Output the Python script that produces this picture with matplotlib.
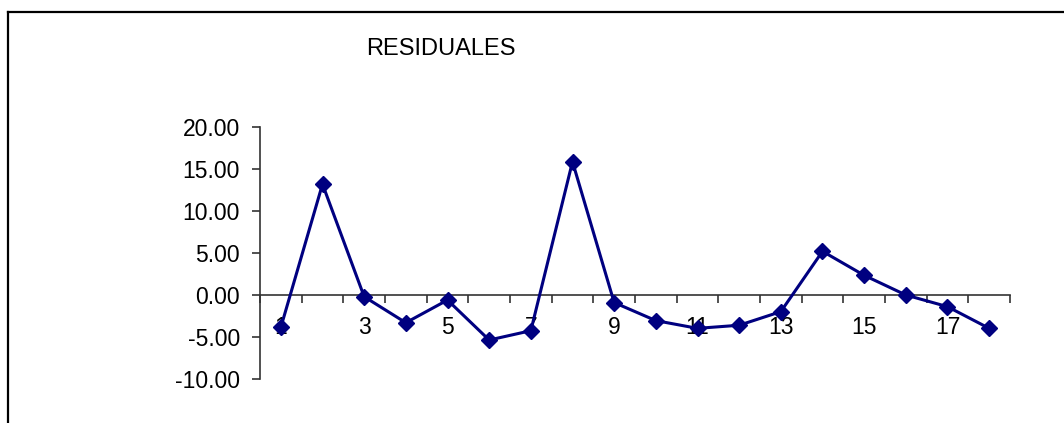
import matplotlib
matplotlib.use("Agg")
import matplotlib.pyplot as plt
from matplotlib.lines import Line2D
from matplotlib.ticker import FixedLocator, FuncFormatter

plt.rcParams['font.family'] = ['Liberation Sans', 'DejaVu Sans']

# Residuals per observation
observations = list(range(1, 19))
residuals = [-3.85, 13.20, -0.20, -3.30, -0.60, -5.36, -4.25, 15.87, -0.90,
             -3.05, -3.97, -3.60, -1.98, 5.20, 2.34, 0.00, -1.39, -3.97]
shown_labels = [1, 3, 5, 7, 9, 11, 13, 15, 17]
y_ticks = [-10, -5, 0, 5, 10, 15, 20]
title = "RESIDUALES"

W, H = 1064, 423
fig = plt.figure(figsize=(W / 100, H / 100), dpi=100)
ax = fig.add_axes([260 / W, 1 - 379 / H, (1010 - 260) / W, (379 - 127) / H])

navy = "#000080"
ax.plot(observations, residuals, color=navy, lw=2.2, marker='D', ms=7.8,
        mfc=navy, mec=navy, zorder=3, clip_on=False)

ax.set_xlim(0.5, len(observations) + 0.5)
ax.set_ylim(y_ticks[0], y_ticks[-1])

for s in ('top', 'right'):
    ax.spines[s].set_visible(False)
ax.spines['bottom'].set_position(('data', 0))
ax.spines['bottom'].set_color('#333333')
ax.spines['left'].set_color('#333333')
ax.spines['bottom'].set_linewidth(1.2)
ax.spines['left'].set_linewidth(1.2)

# Category labels centred on the points, tick marks between categories
ax.xaxis.set_major_locator(FixedLocator(shown_labels))
ax.set_xticklabels([str(v) for v in shown_labels])
ax.xaxis.set_minor_locator(FixedLocator([i + 0.5 for i in range(0, len(observations) + 1)]))
ax.tick_params(axis='x', which='major', length=0, pad=15, labelsize=16.5)
ax.tick_params(axis='x', which='minor', length=5.5, width=1.2, direction='out', color='#333333')

ax.set_yticks(y_ticks)
ax.yaxis.set_major_formatter(FuncFormatter(lambda v, p: f"{v:.2f}"))
ax.tick_params(axis='y', length=5.5, width=1.2, pad=9, labelsize=16.5, color='#333333')

fig.text(441 / W, 1 - 49 / H, title, ha='center', va='center', fontsize=17)

# Outer chart frame (top and left edges)
fig.add_artist(Line2D([7.5 / W, 1.0], [1 - 12.5 / H] * 2, color='black', lw=1.6,
                      transform=fig.transFigure))
fig.add_artist(Line2D([7.5 / W] * 2, [0.0, 1 - 12.5 / H], color='black', lw=1.6,
                      transform=fig.transFigure))

fig.savefig("out.png", dpi=100)
